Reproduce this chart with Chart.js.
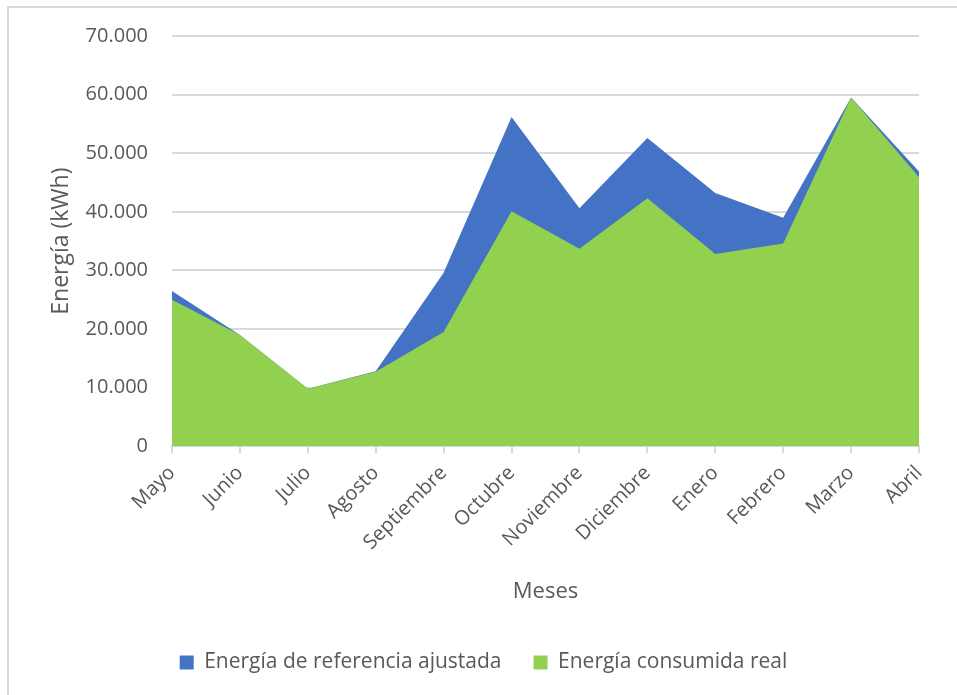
<!DOCTYPE html>
<html>
<head>
<meta charset="utf-8">
<script src="https://cdn.jsdelivr.net/npm/chart.js@4/dist/chart.umd.min.js"></script>
<style>
    html, body { margin: 0; padding: 0; background: #fff; }
    #wrap { position: relative; width: 957px; height: 695px; }
    #frame { position: absolute; left: 7px; top: 6px; right: -10px; bottom: -10px;
             border-left: 2px solid #d9d9d9; border-top: 2px solid #d9d9d9; }
    #chart { position: absolute; left: 0; top: 0; }
</style>
</head>
<body>
<div id="wrap">
    <div id="frame"></div>
    <canvas id="chart" width="957" height="695"></canvas>
</div>
<script>
'use strict';

// months (x axis)
var meses = ['Mayo', 'Junio', 'Julio', 'Agosto', 'Septiembre', 'Octubre', 'Noviembre', 'Diciembre', 'Enero', 'Febrero', 'Marzo', 'Abril'];

// kWh
var referencia_ajustada = [26500, 19000, 9800, 12800, 29600, 56200, 40600, 52600, 43200, 39000, 59500, 46900];
var consumida_real = [25000, 19000, 9800, 12700, 19500, 40100, 33700, 42300, 32800, 34600, 59500, 45900];

var y_ticks = [0, 10000, 20000, 30000, 40000, 50000, 60000, 70000];

var font_family = '"Open Sans", "Noto Sans", sans-serif';
var text_color = '#595959';
var grid_color = '#d9d9d9';

// 70000 -> "70.000"
function fmt(v) {
    return String(v).replace(/\B(?=(\d{3})+(?!\d))/g, '.');
}

Chart.defaults.font.family = font_family;
Chart.defaults.color = text_color;

var chart = new Chart(document.getElementById('chart'), {
    type: 'line',
    data: {
        labels: meses,
        datasets: [
            {
                label: 'Energía de referencia ajustada',
                data: referencia_ajustada,
                backgroundColor: '#4472c4',
                borderColor: '#4472c4',
                borderWidth: 0,
                fill: 'origin',
                pointRadius: 0,
                order: 2
            },
            {
                label: 'Energía consumida real',
                data: consumida_real,
                backgroundColor: '#92d050',
                borderColor: '#92d050',
                borderWidth: 0,
                fill: 'origin',
                pointRadius: 0,
                order: 1 // drawn on top
            }
        ]
    },
    options: {
        responsive: false,
        animation: false,
        layout: {
            padding: {left: 48, right: 38, top: 29, bottom: 12}
        },
        plugins: {
            tooltip: {enabled: false},
            legend: {
                position: 'bottom',
                labels: {
                    boxWidth: 14,
                    boxHeight: 14,
                    padding: 32,
                    font: {size: 21},
                    color: text_color,
                    sort: (a, b) => a.datasetIndex - b.datasetIndex
                }
            }
        },
        scales: {
            x: {
                offset: false,
                grid: {
                    drawOnChartArea: false,
                    drawTicks: true,
                    tickLength: 7,
                    color: grid_color,
                    lineWidth: 2
                },
                border: {display: true, color: grid_color, width: 2},
                ticks: {
                    minRotation: 45,
                    maxRotation: 45,
                    autoSkip: false,
                    padding: 8,
                    font: {size: 20},
                    color: text_color
                },
                title: {
                    display: true,
                    text: 'Meses',
                    font: {size: 22},
                    color: text_color,
                    padding: {top: 16, bottom: 15}
                }
            },
            y: {
                min: 0,
                max: 70000,
                afterBuildTicks: axis => {
                    axis.ticks = y_ticks.map(v => ({value: v}));
                },
                afterFit: axis => {
                    axis.width = 124;
                },
                grid: {
                    drawTicks: false,
                    color: grid_color,
                    lineWidth: 2
                },
                border: {display: false},
                ticks: {
                    padding: 24,
                    font: {size: 20},
                    color: text_color,
                    callback: v => fmt(v)
                },
                title: {
                    display: true,
                    text: 'Energía (kWh)',
                    font: {size: 23},
                    color: text_color,
                    padding: {top: 0, bottom: 0}
                }
            }
        }
    }
});
</script>
</body>
</html>
